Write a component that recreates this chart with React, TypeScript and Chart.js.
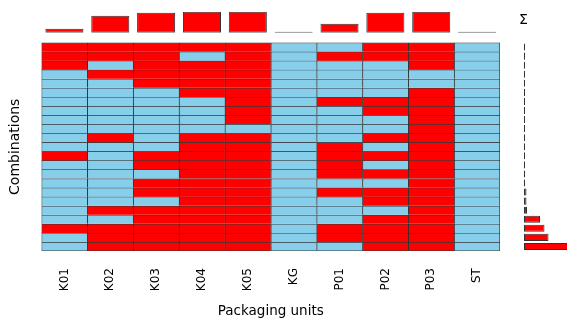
import React, { useEffect, useRef } from "react";
import { Chart, registerables } from "chart.js";

Chart.register(...registerables);

const units = ["K01", "K02", "K03", "K04", "K05", "KG", "P01", "P02", "P03", "ST"];

// 1 = packaging unit used in the combination (red), 0 = not used (blue); rows top to bottom
const combinations = [
  [1, 1, 1, 1, 1, 0, 0, 1, 1, 0],
  [1, 1, 1, 0, 1, 0, 1, 1, 1, 0],
  [1, 0, 1, 1, 1, 0, 0, 0, 1, 0],
  [0, 1, 1, 1, 1, 0, 0, 0, 0, 0],
  [0, 0, 1, 1, 1, 0, 0, 0, 0, 0],
  [0, 0, 0, 1, 1, 0, 0, 0, 1, 0],
  [0, 0, 0, 0, 1, 0, 1, 1, 1, 0],
  [0, 0, 0, 0, 1, 0, 0, 1, 1, 0],
  [0, 0, 0, 0, 1, 0, 0, 0, 1, 0],
  [0, 0, 0, 0, 0, 0, 0, 0, 1, 0],
  [0, 1, 0, 1, 1, 0, 0, 1, 1, 0],
  [0, 0, 0, 1, 1, 0, 1, 0, 1, 0],
  [1, 0, 1, 1, 1, 0, 1, 1, 1, 0],
  [0, 0, 1, 1, 1, 0, 1, 0, 1, 0],
  [0, 0, 0, 1, 1, 0, 1, 1, 1, 0],
  [0, 0, 1, 1, 1, 0, 0, 0, 1, 0],
  [0, 0, 1, 1, 1, 0, 1, 1, 1, 0],
  [0, 0, 0, 1, 1, 0, 0, 1, 1, 0],
  [0, 1, 1, 1, 1, 0, 0, 0, 1, 0],
  [0, 0, 1, 1, 1, 0, 0, 1, 1, 0],
  [1, 1, 1, 1, 1, 0, 1, 1, 1, 0],
  [0, 1, 1, 1, 1, 0, 1, 1, 1, 0],
  [0, 1, 1, 1, 1, 0, 0, 1, 1, 0],
];

// top marginal bars (weighted usage per packaging unit)
const unitTotals = [4, 17, 20, 21, 21, 0, 9, 20, 21, 0];

// right marginal bars (Σ per combination, top to bottom)
const comboTotals = [
  0.3, 0.3, 0.3, 0.3, 0.3, 0.3, 0.3, 0.3, 0.3, 0.3, 0.3, 0.3, 0.3,
  1, 1, 1, 2.5, 2.5, 3, 16, 20.5, 24.5, 46,
];

const RED = "#ff0000";
const BLUE = "#87ceeb";
const FONT = "DejaVu Sans";

const W = 567;
const H = 322;

export default function App() {
  const mainRef = useRef<HTMLCanvasElement>(null);
  const topRef = useRef<HTMLCanvasElement>(null);
  const sideRef = useRef<HTMLCanvasElement>(null);

  useEffect(() => {
    const n = combinations.length;
    const main = new Chart(mainRef.current!, {
      type: "bar",
      data: {
        labels: units,
        datasets: combinations.map((row, i) => ({
          label: "C" + (i + 1),
          data: row.map(() => 1),
          backgroundColor: row.map((v) => (v ? RED : BLUE)),
          borderColor: "rgba(0,0,0,0.78)",
          borderWidth: (ctx: any) => ({
            top: 1,
            left: 1,
            right: ctx.dataIndex === units.length - 1 ? 1 : 0,
            bottom: ctx.datasetIndex === n - 1 ? 1 : 0,
          }),
          borderSkipped: false,
          categoryPercentage: 1,
          barPercentage: 1,
        })),
      },
      options: {
        responsive: false,
        animation: false,
        devicePixelRatio: 1,
        layout: { padding: { left: 6.6, right: 67, top: 42.5, bottom: 2.9 } },
        plugins: { legend: { display: false }, tooltip: { enabled: false } },
        scales: {
          x: {
            stacked: true,
            grid: { display: false, drawTicks: false },
            border: { display: false },
            ticks: {
              minRotation: 90,
              maxRotation: 90,
              padding: 17,
              color: "#000",
              font: { family: FONT, size: 12 },
            },
            title: {
              display: true,
              text: "Packaging units",
              color: "#000",
              font: { family: FONT, size: 13.5 },
              padding: { top: -5.3, bottom: 0 },
            },
          },
          y: {
            stacked: true,
            reverse: true,
            min: 0,
            max: n,
            grid: { display: false, drawTicks: false },
            border: { display: false },
            ticks: { display: false },
            title: {
              display: true,
              text: "Combinations",
              color: "#000",
              font: { family: FONT, size: 14 },
              padding: { top: 0, bottom: 18.1 },
            },
          },
        },
      },
    } as any);

    const top = new Chart(topRef.current!, {
      type: "bar",
      data: {
        labels: units,
        datasets: [
          {
            data: unitTotals,
            backgroundColor: RED,
            borderColor: "#333",
            borderWidth: 1,
            borderSkipped: false,
            categoryPercentage: 1,
            barPercentage: 0.83,
            minBarLength: 1,
          },
        ],
      },
      options: {
        responsive: false,
        animation: false,
        devicePixelRatio: 1,
        layout: { padding: { left: 41.5, right: 67, top: 11.7, bottom: H - 32.7 } },
        plugins: { legend: { display: false }, tooltip: { enabled: false } },
        scales: {
          x: { display: false },
          y: { display: false, min: 0, max: 21 },
        },
      },
    } as any);

    const sigmaPlugin = {
      id: "sigmaLabel",
      afterDraw(chart: any) {
        const { ctx, chartArea } = chart;
        ctx.save();
        ctx.fillStyle = "#000";
        ctx.font = "14px '" + FONT + "'";
        ctx.textAlign = "center";
        ctx.textBaseline = "middle";
        ctx.fillText("Σ", chartArea.left - 0.5, 20);
        ctx.restore();
      },
    };

    const side = new Chart(sideRef.current!, {
      type: "bar",
      data: {
        labels: combinations.map((_, i) => "C" + (i + 1)),
        datasets: [
          {
            data: comboTotals,
            backgroundColor: RED,
            borderColor: "#333",
            borderWidth: 1,
            borderSkipped: false,
            categoryPercentage: 1,
            barPercentage: 0.78,
            minBarLength: 1,
          },
        ],
      },
      options: {
        indexAxis: "y",
        responsive: false,
        animation: false,
        devicePixelRatio: 1,
        layout: { padding: { left: 524, right: 0, top: 42.5, bottom: 71 } },
        plugins: { legend: { display: false }, tooltip: { enabled: false } },
        scales: {
          x: { display: false, min: 0, max: 43 },
          y: { display: false },
        },
      },
      plugins: [sigmaPlugin],
    } as any);

    return () => {
      main.destroy();
      top.destroy();
      side.destroy();
    };
  }, []);

  const cs: React.CSSProperties = { position: "absolute", left: 0, top: 0, width: W, height: H };
  return (
    <div style={{ position: "absolute", left: 0, top: 0, width: W, height: H, background: "#fff" }}>
      <canvas ref={mainRef} width={W} height={H} style={cs} />
      <canvas ref={topRef} width={W} height={H} style={cs} />
      <canvas ref={sideRef} width={W} height={H} style={cs} />
    </div>
  );
}
